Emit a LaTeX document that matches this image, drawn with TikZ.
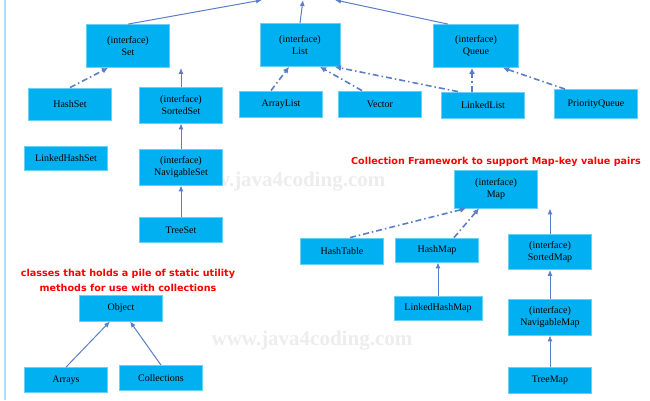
\documentclass[tikz,border=0pt]{standalone}
\usepackage{fontspec}
\setmainfont{Liberation Serif}
\newfontfamily\redfont{DejaVu Sans}
\usetikzlibrary{arrows.meta}
\definecolor{boxc}{HTML}{00B0F0}
\definecolor{arrc}{HTML}{5B7FC7}
\tikzset{
 bx/.style={fill=boxc,draw=boxc!60!white,line width=0.8pt,minimum width=83pt,minimum height=#1,align=center,font=\fontsize{10}{12}\selectfont,inner sep=1pt},
 bx/.default=26pt,
 solidarr/.style={draw=arrc,line width=1pt,-{Latex[length=6pt,width=5pt]}},
 dotarr/.style={draw=arrc,line width=1.6pt,dash pattern=on 6pt off 3pt on 1.5pt off 3pt,-{Latex[length=6pt,width=6pt]}},
 redtxt/.style={text=red,font=\redfont\bfseries\fontsize{9.6}{15}\selectfont,align=center},
 wm/.style={text=black!7,font=\fontsize{21}{22}\selectfont\bfseries}
}
\begin{document}
\begin{tikzpicture}[x=1pt,y=-1pt]
\useasboundingbox (0,0) rectangle (650,400);
\fill[white] (0,0) rectangle (650,400);
\draw[boxc!35,line width=1.5pt] (5,0) -- (5,400);
\node[wm] (w1) at (285,182) {www.java4coding.com};
\node[wm] (w2) at (312,341) {www.java4coding.com};
\coordinate (t1) at (262,0);
\coordinate (t2) at (303,0);
\coordinate (t3) at (335,0);
\node[bx=43pt] (set) at (128,46) {(interface)\\Set};
\node[bx=43pt,minimum width=80pt] (list) at (300,45) {(interface)\\List};
\node[bx=43pt,minimum width=85pt] (queue) at (476,46) {(interface)\\Queue};
\node[bx=32pt] (hashset) at (70,104) {HashSet};
\node[bx=36pt] (sortedset) at (181,105) {(interface)\\SortedSet};
\node[bx] (arraylist) at (281,104) {ArrayList};
\node[bx] (vector) at (380,104) {Vector};
\node[bx] (linkedlist) at (483,105) {LinkedList};
\node[bx=29pt] (pq) at (596,104) {PriorityQueue};
\node[bx=24pt] (lhs) at (66,158) {LinkedHashSet};
\node[bx=36pt] (navset) at (181,167) {(interface)\\NavigableSet};
\node[bx=25pt] (treeset) at (181,230) {TreeSet};
\node[redtxt] (maptitle) at (496,162) {Collection Framework to support Map-key value pairs};
\node[bx=38pt] (map) at (496,189) {(interface)\\Map};
\node[bx] (hashtable) at (342,251) {HashTable};
\node[bx=24pt] (hashmap) at (437,250) {HashMap};
\node[bx=35pt] (sortedmap) at (550,252) {(interface)\\SortedMap};
\node[bx=24pt,minimum width=88pt] (lhm) at (438,308) {LinkedHashMap};
\node[bx=36pt] (navmap) at (550,317) {(interface)\\NavigableMap};
\node[bx] (treemap) at (550,380) {TreeMap};
\node[redtxt] (utiltitle) at (128,280) {classes that holds a pile of static utility\\methods for use with collections};
\node[bx] (object) at (121,308) {Object};
\node[bx=25pt] (arrays) at (66,380) {Arrays};
\node[bx=25pt] (colls) at (161,378) {Collections};
% connectors
\draw[solidarr] (set.north) -- (t1);
\draw[solidarr] (list.north) -- (t2);
\draw[solidarr] (queue.north west) ++(15,0) -- (t3);
\draw[dotarr] (hashset.north) -- ([xshift=-20pt]set.south);
\draw[solidarr] (sortedset.north) -- (sortedset.north |- set.south);
\draw[dotarr] ([xshift=-10pt]arraylist.north) -- ([xshift=-11pt]list.south);
\draw[dotarr] ([xshift=-18pt]vector.north) -- ([xshift=20pt]list.south);
\draw[dotarr] ([xshift=-25pt]linkedlist.north) -- ([xshift=35pt]list.south);
\draw[dotarr] ([xshift=-11pt]linkedlist.north) -- ([xshift=-4pt]queue.south);
\draw[dotarr] ([xshift=-31pt]pq.north) -- ([xshift=27pt]queue.south);
\draw[solidarr] (navset.north) -- (sortedset.south);
\draw[solidarr] (treeset.north) -- (navset.south);
\draw[dotarr] ([xshift=8pt]hashtable.north) -- ([xshift=-30pt]map.south);
\draw[dotarr] ([xshift=17pt]hashmap.north) -- ([xshift=-17pt]map.south);
\draw[solidarr] (sortedmap.north) -- (sortedmap.north |- map.south);
\draw[solidarr] (lhm.north) -- (lhm.north |- hashmap.south);
\draw[solidarr] (navmap.north) -- (sortedmap.south);
\draw[solidarr] (treemap.north) -- (navmap.south);
\draw[solidarr] (arrays.north) -- ([xshift=-11pt]object.south);
\draw[solidarr] (colls.north) -- ([xshift=9pt]object.south);
\end{tikzpicture}
\end{document}
